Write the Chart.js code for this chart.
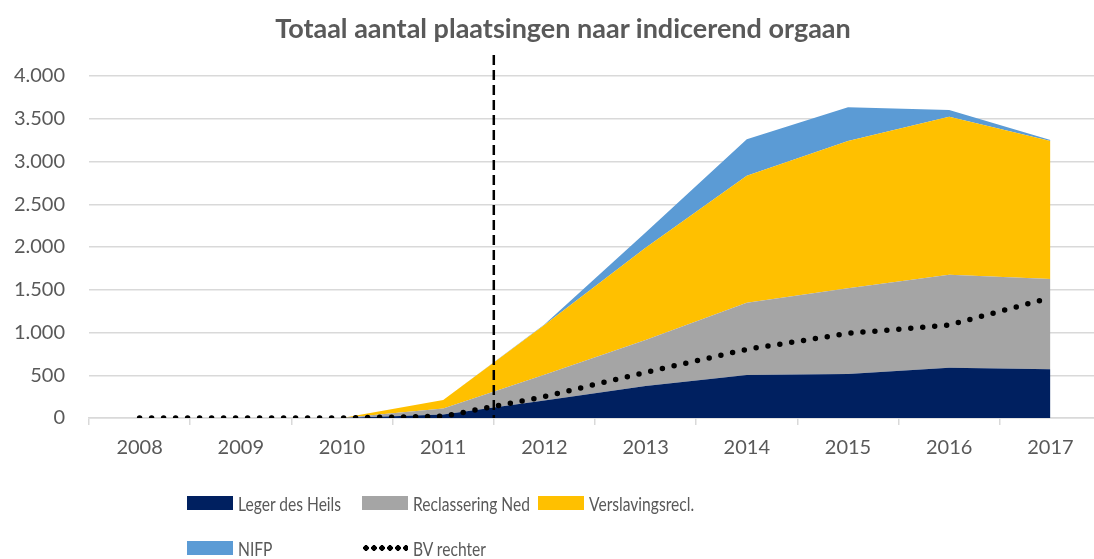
<!DOCTYPE html>
<html>
<head>
<meta charset="utf-8">
<script src="https://cdn.jsdelivr.net/npm/chart.js@4/dist/chart.umd.min.js"></script>
<style>
  body { margin: 0; overflow: hidden; background: #fff; width: 1094px; height: 559px; }
  #wrap { position: relative; width: 1126px; height: 482px; }
  #title { position: absolute; left: 0; top: 11px; width: 1126px; text-align: center;
           font-family: Lato, sans-serif; font-weight: bold; font-size: 27px; line-height: 34px; color: #595959; }
  #legend { position: absolute; left: 0; top: 0; width: 1094px; height: 559px; pointer-events: none;
            font-family: Lato, sans-serif; font-size: 19.5px; color: #595959; }
  .item { position: absolute; display: flex; align-items: center; white-space: nowrap; }
  .item span.txt { display: inline-block; transform: scaleX(0.8); transform-origin: left center; }
  .box { width: 46px; height: 14px; margin-right: 5px; }
  .dots { width: 46px; height: 6px; margin-right: 5px;
          background-image: radial-gradient(circle, #000 2.6px, transparent 3px);
          background-size: 8px 6px; }
</style>
</head>
<body>
<div id="wrap"><canvas id="myChart" width="1126" height="482"></canvas></div>
<div id="title">Totaal aantal plaatsingen naar indicerend orgaan</div>
<div id="legend"></div>
<script>
var years = ['2008', '2009', '2010', '2011', '2012', '2013', '2014', '2015', '2016', '2017'];
var legerDesHeils = [0, 0, 0, 40, 205, 375, 503, 515, 588, 569];
var reclassering = [0, 0, 0, 70, 300, 537, 846, 1002, 1088, 1057];
var verslavingsrecl = [0, 0, 0, 100, 583, 1078, 1485, 1723, 1848, 1614];
var nifp = [0, 0, 0, 0, 7, 180, 425, 394, 78, 11];
var bvRechter = [0, 0, 0, 20, 250, 534, 803, 990, 1088, 1407];

var seriesNames = ['Leger des Heils', 'Reclassering Ned', 'Verslavingsrecl.', 'NIFP', 'BV rechter'];
var colors = ['#002060', '#A5A5A5', '#FFC000', '#5B9BD5', '#000000'];

function formatNumber(v) {
    return v.toString().replace(/\B(?=(\d{3})+(?!\d))/g, '.');
}

// vertical dashed line between 2011 and 2012
var dividerLine = {
    id: 'dividerLine',
    afterDatasetsDraw: function(chart) {
        var x = chart.scales.x;
        var px = (x.getPixelForValue(3) + x.getPixelForValue(4)) / 2;
        var ctx = chart.ctx;
        ctx.save();
        ctx.strokeStyle = '#000';
        ctx.lineWidth = 2.5;
        ctx.setLineDash([10, 5]);
        ctx.beginPath();
        ctx.moveTo(px, 55);
        ctx.lineTo(px, chart.chartArea.bottom);
        ctx.stroke();
        ctx.restore();
    }
};

function area(i, data, fill) {
    return {
        label: seriesNames[i],
        data: data,
        backgroundColor: colors[i],
        borderColor: colors[i],
        borderWidth: 0,
        pointRadius: 0,
        fill: fill,
        stack: 'areas',
        tension: 0
    };
}

var ctx = document.getElementById('myChart');
var myChart = new Chart(ctx, {
    type: 'line',
    data: {
        labels: years,
        datasets: [
            area(0, legerDesHeils, 'origin'),
            area(1, reclassering, '-1'),
            area(2, verslavingsrecl, '-1'),
            area(3, nifp, '-1'),
            {
                label: seriesNames[4],
                data: bvRechter,
                borderColor: '#000',
                borderWidth: 5.5,
                borderDash: [0, 12],
                borderCapStyle: 'round',
                pointRadius: 0,
                fill: false,
                stack: 'bv',
                order: -1
            }
        ]
    },
    options: {
        responsive: false,
        animation: false,
        layout: { padding: { left: 0, right: 25, top: 76, bottom: 11 } },
        plugins: {
            legend: { display: false },
            tooltip: { enabled: false },
            title: { display: false }
        },
        scales: {
            x: {
                offset: true,
                grid: { offset: true, drawOnChartArea: false, color: '#d9d9d9', lineWidth: 1.5, tickLength: 7 },
                border: { color: '#d9d9d9', width: 1.5 },
                ticks: { color: '#595959', font: { family: 'Lato', size: 20 }, padding: 11, maxRotation: 0 }
            },
            y: {
                stacked: true,
                min: 0,
                max: 4000,
                grid: { color: '#d9d9d9', lineWidth: 1.5, drawTicks: false },
                border: { display: false },
                afterFit: function(scale) { scale.width = 89; },
                ticks: {
                    stepSize: 500,
                    padding: 24,
                    color: '#595959',
                    font: { family: 'Lato', size: 20 },
                    callback: function(v) { return formatNumber(v); }
                }
            }
        }
    },
    plugins: [dividerLine]
});

// legend laid out like the original grid
var legendItems = [
    { i: 0, left: 187, top: 503 },
    { i: 1, left: 362, top: 503 },
    { i: 2, left: 538, top: 503 },
    { i: 3, left: 187, top: 548 },
    { i: 4, left: 362, top: 548 }
];
var legend = document.getElementById('legend');
legendItems.forEach(function(it) {
    var el = document.createElement('div');
    el.className = 'item';
    el.style.left = it.left + 'px';
    el.style.top = (it.top - 13) + 'px';
    el.style.height = '26px';
    var mark = document.createElement('span');
    if (it.i === 4) {
        mark.className = 'dots';
    } else {
        mark.className = 'box';
        mark.style.background = colors[it.i];
    }
    var txt = document.createElement('span');
    txt.className = 'txt';
    txt.textContent = seriesNames[it.i];
    el.appendChild(mark);
    el.appendChild(txt);
    legend.appendChild(el);
});
</script>
</body>
</html>
